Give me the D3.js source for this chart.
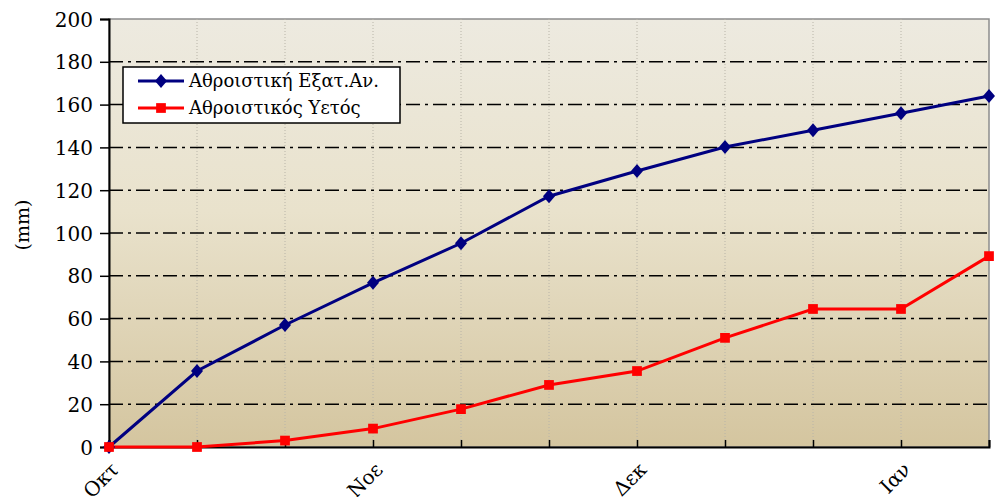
<!DOCTYPE html>
<html>
<head>
<meta charset="utf-8">
<script src="https://cdn.jsdelivr.net/npm/d3@7"></script>
<style>
  body { margin: 0; background: #fff; }
  text { font-family: "Palatino Linotype", "Book Antiqua", "DejaVu Serif", serif; fill: #000; }
</style>
</head>
<body>
<div id="chart"></div>
<script>
// data
const steps = d3.range(11);
const monthLabels = ['Οκτ', 'Νοε', 'Δεκ', 'Ιαν'];
const monthSteps = [0, 3, 6, 9];
const evapValues = [0, 35.5, 57, 76.7, 95.2, 117.2, 129, 140.2, 148, 156, 164];
const rainValues = [0, 0, 3, 8.6, 17.7, 29, 35.5, 51, 64.5, 64.5, 89.2];
const yTicks = d3.range(0, 201, 20);
const seriesNames = ['Αθροιστική Εξατ.Αν.', 'Αθροιστικός Υετός'];

const width = 1001;
const height = 497;
const margin = { top: 19, right: 12, bottom: 50, left: 109 };
const innerWidth = width - margin.left - margin.right;
const innerHeight = height - margin.top - margin.bottom;

const svg = d3.select('#chart')
  .append('svg')
  .attr('width', width)
  .attr('height', height);

const defs = svg.append('defs');
const grad = defs.append('linearGradient')
  .attr('id', 'bg')
  .attr('x1', 0).attr('y1', 0).attr('x2', 0).attr('y2', 1);
grad.append('stop').attr('offset', '0%').attr('stop-color', '#EDEAE0');
grad.append('stop').attr('offset', '45%').attr('stop-color', '#E9E2CC');
grad.append('stop').attr('offset', '100%').attr('stop-color', '#D4C59F');

const g = svg.append('g')
  .attr('transform', `translate(${margin.left}, ${margin.top})`);

// Scales
const x = d3.scaleLinear().domain([0, 10]).range([0, innerWidth]);
const y = d3.scaleLinear().domain([0, 200]).range([innerHeight, 0]);

// Plot background
g.append('rect')
  .attr('width', innerWidth)
  .attr('height', innerHeight)
  .attr('fill', 'url(#bg)')
  .attr('stroke', '#8c8c8c')
  .attr('stroke-width', 1.5);

// Vertical dotted gridlines
g.append('g')
  .selectAll('line')
  .data(steps.slice(1, -1))
  .enter()
  .append('line')
  .attr('x1', (d) => x(d)).attr('x2', (d) => x(d))
  .attr('y1', 0).attr('y2', innerHeight)
  .attr('stroke', '#b8b4a8')
  .attr('stroke-width', 1)
  .attr('stroke-dasharray', '1,2');

// Horizontal dash-dot gridlines
g.append('g')
  .selectAll('line')
  .data(yTicks.slice(1, -1))
  .enter()
  .append('line')
  .attr('x1', 0).attr('x2', innerWidth)
  .attr('y1', (d) => y(d)).attr('y2', (d) => y(d))
  .attr('stroke', '#000')
  .attr('stroke-width', 1.5)
  .attr('stroke-dasharray', '14,5,3,5');

// Y axis
const yAxis = d3.axisLeft(y).tickValues(yTicks).tickSize(9).tickPadding(7);
const gY = g.append('g').call(yAxis);
gY.select('.domain').attr('stroke', '#000').attr('stroke-width', 2);
gY.selectAll('.tick line').attr('stroke', '#000').attr('stroke-width', 1.5);
gY.selectAll('.tick text').attr('font-size', 20).attr('dy', '0.35em');

// X axis (ticks inside)
const xAxis = d3.axisBottom(x).tickValues(steps).tickSize(-7).tickFormat('');
const gX = g.append('g')
  .attr('transform', `translate(0, ${innerHeight})`)
  .call(xAxis);
gX.select('.domain').attr('stroke', '#000').attr('stroke-width', 2);
gX.selectAll('.tick line').attr('stroke', '#000').attr('stroke-width', 1.5);

// Month labels
g.append('g')
  .selectAll('text')
  .data(monthSteps)
  .enter()
  .append('text')
  .attr('text-anchor', 'end')
  .attr('font-size', 20)
  .attr('transform', (d) => `translate(${x(d) + 1}, ${innerHeight + 14}) rotate(-45)`)
  .attr('dy', '0.7em')
  .text((d, i) => monthLabels[i]);

// Y label
svg.append('text')
  .attr('transform', `translate(29, ${margin.top + innerHeight / 2 - 8}) rotate(-90)`)
  .attr('text-anchor', 'middle')
  .attr('font-size', 19)
  .text('(mm)');

// Lines
const line = d3.line()
  .x((d, i) => x(i))
  .y((d) => y(d));

const diamond = () => 'M0,-7L6,0L0,7L-6,0Z';
const square = d3.symbol().type(d3.symbolSquare).size(95);

g.append('path')
  .datum(evapValues)
  .attr('fill', 'none')
  .attr('stroke', '#000080')
  .attr('stroke-width', 3)
  .attr('d', line);

g.append('path')
  .datum(rainValues)
  .attr('fill', 'none')
  .attr('stroke', '#FF0000')
  .attr('stroke-width', 3)
  .attr('d', line);

g.append('g')
  .selectAll('path')
  .data(evapValues)
  .enter()
  .append('path')
  .attr('d', diamond)
  .attr('fill', '#000080')
  .attr('transform', (d, i) => `translate(${x(i)}, ${y(d)})`);

g.append('g')
  .selectAll('path')
  .data(rainValues)
  .enter()
  .append('path')
  .attr('d', square)
  .attr('fill', '#FF0000')
  .attr('transform', (d, i) => `translate(${x(i)}, ${y(d)})`);

// Legend
const legend = svg.append('g').attr('transform', 'translate(123, 67)');
legend.append('rect')
  .attr('width', 277)
  .attr('height', 56)
  .attr('fill', '#fff')
  .attr('stroke', '#000')
  .attr('stroke-width', 1.5);

const legendRows = legend.selectAll('g.row')
  .data(seriesNames)
  .enter()
  .append('g')
  .attr('class', 'row')
  .attr('transform', (d, i) => `translate(0, ${14 + i * 27})`);

legendRows.append('line')
  .attr('x1', 15).attr('x2', 61)
  .attr('stroke', (d, i) => (i === 0 ? '#000080' : '#FF0000'))
  .attr('stroke-width', 3);

legendRows.append('path')
  .attr('d', (d, i) => (i === 0 ? diamond() : square()))
  .attr('fill', (d, i) => (i === 0 ? '#000080' : '#FF0000'))
  .attr('transform', 'translate(38, 0)');

legendRows.append('text')
  .attr('x', 66)
  .attr('dy', '0.35em')
  .attr('font-size', 18)
  .text((d) => d);
</script>
</body>
</html>
